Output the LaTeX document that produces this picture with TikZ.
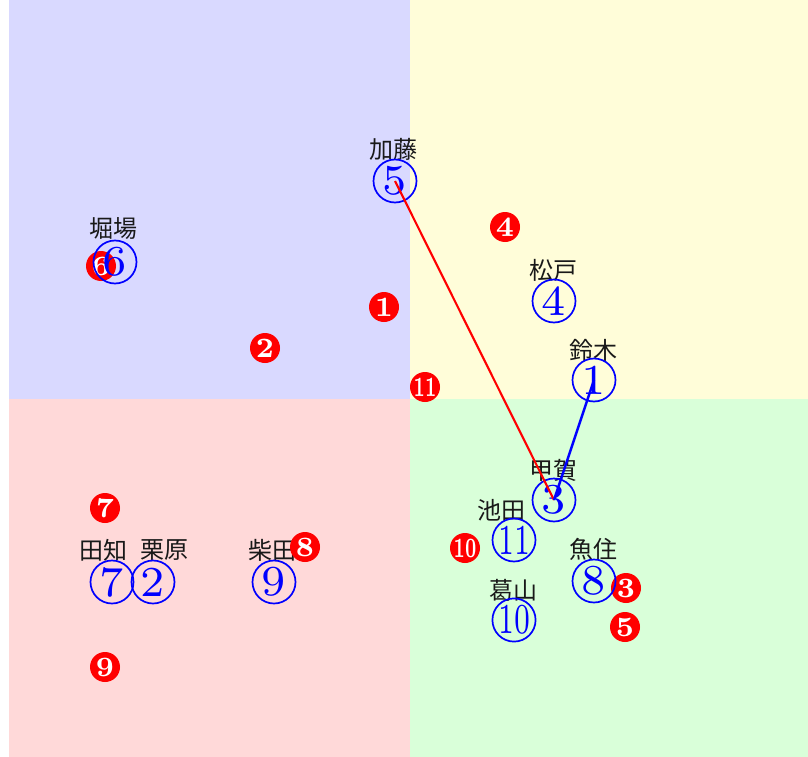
\documentclass[tikz,border=0pt]{standalone}
\usepackage{fontspec}
\newfontfamily\cjk{Noto Sans CJK JP}
\usepackage{graphicx}
\newcommand\pnum[1]{\scalebox{6.1}{#1}}
\newcommand\pnumw[1]{\scalebox{4.0}[6.1]{#1}}
\newcommand\rnum[1]{\scalebox{4.0}{#1}}
\newcommand\rnumw[1]{\scalebox{2.5}[4.0]{#1}}
\begin{document}
\begin{tikzpicture}[x=1pt,y=-1pt,
  lbl/.style={font=\cjk\fontsize{24}{24}\selectfont, inner sep=0pt, text=black!90},
  person/.style={circle, draw=blue, line width=1.7pt, text=blue, minimum size=43pt, inner sep=0pt, font=\fontsize{7}{8}\selectfont},
  redmark/.style={circle, fill=red, text=white, minimum size=30pt, inner sep=0pt, font=\bfseries\fontsize{7}{8}\selectfont},
  tie/.style={line width=2.1pt}]
\useasboundingbox (0,0) rectangle (808,757);
\fill[blue!15] (9,0) rectangle (410,399);
\fill[yellow!15] (410,0) rectangle (808,399);
\fill[red!15] (9,399) rectangle (410,757);
\fill[green!15] (410,399) rectangle (808,757);
% labels
\node[lbl] (l5) at (393,149) {加藤};
\node[lbl] (l6) at (113,229) {堀場};
\node[lbl] (l4) at (553,270) {松戸};
\node[lbl] (l1) at (593,350) {鈴木};
\node[lbl] (l3) at (553,470) {甲賀};
\node[lbl] (l11) at (501,510) {池田};
\node[lbl] (l8) at (593,549) {魚住};
\node[lbl] (l10) at (513,590) {葛山};
\node[lbl] (l7) at (103,550) {田知};
\node[lbl] (l2) at (164,550) {栗原};
\node[lbl] (l9) at (272,550) {柴田};
% red markers
\node[redmark] (m1) at (384,307) {\rnum{1}};
\node[redmark] (m2) at (265,348) {\rnum{2}};
\node[redmark] (m3) at (626,588) {\rnum{3}};
\node[redmark] (m4) at (505,227) {\rnum{4}};
\node[redmark] (m5) at (625,627) {\rnum{5}};
\node[redmark] (m6) at (101,266) {\rnum{6}};
\node[redmark] (m7) at (105,508) {\rnum{7}};
\node[redmark] (m8) at (305,547) {\rnum{8}};
\node[redmark] (m9) at (105,667) {\rnum{9}};
\node[redmark] (m10) at (465,548) {\rnumw{10}};
\node[redmark] (m11) at (425,387) {\rnumw{11}};
% people
\node[person] (p5) at (395,181) {\pnum{5}};
\node[person] (p6) at (115,262) {\pnum{6}};
\node[person] (p4) at (554,301) {\pnum{4}};
\node[person] (p1) at (594,380) {\pnum{1}};
\node[person] (p3) at (554,500) {\pnum{3}};
\node[person] (p11) at (514,540) {\pnumw{11}};
\node[person] (p8) at (594,581) {\pnum{8}};
\node[person] (p10) at (514,620) {\pnumw{10}};
\node[person] (p7) at (112,582) {\pnum{7}};
\node[person] (p2) at (153,582) {\pnum{2}};
\node[person] (p9) at (274,582) {\pnum{9}};
% ties
\draw[tie, red] (p5.center) -- (p3.center);
\draw[tie, blue, line width=2.5pt] (p1.center) -- (p3.center);
\end{tikzpicture}
\end{document}
